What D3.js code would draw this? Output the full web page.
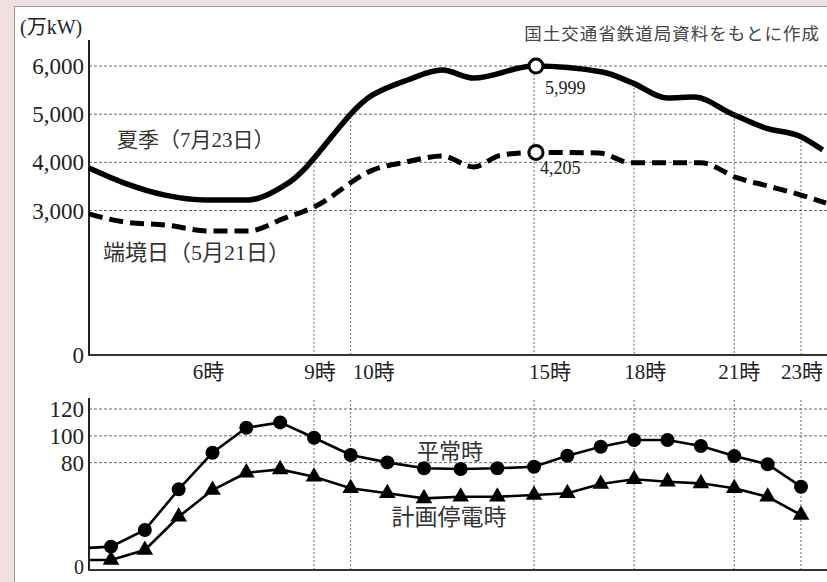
<!DOCTYPE html>
<html><head><meta charset="utf-8">
<script src="https://cdn.jsdelivr.net/npm/d3@7"></script>
<style>body{margin:0;background:#f2e0e0}svg{display:block}</style>
</head><body><svg id="c" width="827" height="582"></svg>
<script>
// ---- data ----
const summerHours   = [3.4, 4.6, 5.8, 7.05, 8.15, 10.6, 11.55, 12.5, 13.35, 15, 17.05, 17.95, 19.0, 19.8, 20.95, 21.95, 22.95, 23.65];
const summerValues  = [3570, 3320, 3220, 3220, 3530, 5400, 5710, 5915, 5750, 5999, 5875, 5650, 5335, 5355, 5000, 4710, 4545, 4255];
const summerAtAxis  = 3882;
const boundaryHours = [3.4, 4.6, 5.9, 7.05, 8.15, 9.0, 10.6, 11.5, 12.5, 13.35, 14.1, 15, 16.95, 17.9, 20.0, 21.1, 22.0, 23.0, 23.75];
const boundaryValues= [2760, 2700, 2575, 2575, 2845, 3070, 3840, 4005, 4130, 3905, 4150, 4205, 4195, 3990, 3990, 3675, 3510, 3320, 3155];
const boundaryAtAxis = 2930;
const peakHour = 15, summerPeak = 5999, boundaryPeak = 4205;
const topTicks = [0, 3000, 4000, 5000, 6000];
const hourLabels = [6, 9, 10, 15, 18, 21, 23];
const gridHours = [9, 10, 15, 18, 21, 23];

const bottomHours   = [3,4,5,6,7,8,9,10,11,12,13,14,15,16,17,18,19,20,21,22,23];
const normalValues  = [17.4, 29.8, 60.1, 87.4, 106, 110, 98.6, 85.7, 80.2, 75.8, 75.3, 75.8, 77, 85.2, 91.9, 96.9, 96.9, 92.4, 84.9, 78.8, 62.1];
const outageValues  = [7.5, 14.9, 39.7, 59.6, 72.5, 75, 69.5, 60.9, 57.2, 53.4, 54.6, 54.6, 55.9, 57.2, 64.1, 67.6, 65.8, 64.6, 60.9, 54.6, 41];
const normalAtAxis = 16.5, outageAtAxis = 7.5;
const bottomTicks = [0, 80, 100, 120];

// ---- drawing ----
const svg = d3.select("#c");
const W = 827, H = 582;
const serif = "'Liberation Serif','Noto Sans CJK JP',serif";
svg.append("rect").attr("width", W).attr("height", H).attr("fill", "#f2e0e0");
svg.append("rect").attr("x", 14.5).attr("y", 6.5).attr("width", W).attr("height", H)
  .attr("fill", "#fff").attr("stroke", "#9a9a9a");

const x = d3.scaleLinear().domain([3, 9, 15, 23]).range([111, 314, 534, 801]);
const xL = 89, xR = 827;
const hStart = x.invert(xL), hEnd = x.invert(xR);

// ===== top chart =====
const yT = d3.scaleLinear().domain([0, 6000]).range([355, 66]);
const gT = svg.append("g");
gT.selectAll("line.hg").data(topTicks.filter(d => d > 0)).join("line")
  .attr("x1", xL).attr("x2", xR).attr("y1", d => yT(d)).attr("y2", d => yT(d))
  .attr("stroke", "#555").attr("stroke-width", 0.9).attr("stroke-dasharray", "3,2");
const summerAll = [[hStart, summerAtAxis]].concat(summerHours.map((h, i) => [h, summerValues[i]]));
const boundaryAll = [[hStart, boundaryAtAxis]].concat(boundaryHours.map((h, i) => [h, boundaryValues[i]]));
function interp(series, h) {
  for (let i = 0; i < series.length - 1; i++) {
    const a = series[i], b = series[i + 1];
    if (h >= a[0] && h <= b[0]) return a[1] + (b[1] - a[1]) * (h - a[0]) / (b[0] - a[0]);
  }
  return series[series.length - 1][1];
}
gT.selectAll("line.vg").data(gridHours).join("line")
  .attr("x1", d => x(d)).attr("x2", d => x(d))
  .attr("y1", d => yT(interp(summerAll, d))).attr("y2", 355)
  .attr("stroke", "#666").attr("stroke-width", 1).attr("stroke-dasharray", "2,2");
gT.append("line").attr("x1", xL).attr("x2", xL).attr("y1", 40).attr("y2", 356)
  .attr("stroke", "#222").attr("stroke-width", 2);
gT.append("line").attr("x1", xL - 1).attr("x2", xR).attr("y1", 355).attr("y2", 355)
  .attr("stroke", "#333").attr("stroke-width", 2);
gT.selectAll("text.yt").data(topTicks).join("text")
  .attr("x", 84).attr("y", d => yT(d)).attr("dy", "0.35em").attr("text-anchor", "end")
  .attr("font-family", serif).attr("font-size", 23).attr("fill", "#222")
  .text(d => d3.format(",")(d));
const labelShift = {6: -4, 9: 6, 10: 23, 15: 16, 18: 11, 21: 5, 23: 1};
gT.selectAll("text.xt").data(hourLabels).join("text")
  .attr("x", d => x(d) + labelShift[d]).attr("y", 379).attr("text-anchor", "middle")
  .attr("font-family", serif).attr("font-size", 21).attr("fill", "#222")
  .text(d => d + "時");
const lineT = d3.line().x(d => x(d[0])).y(d => yT(d[1])).curve(d3.curveMonotoneX);
gT.append("path").attr("d", lineT(boundaryAll)).attr("fill", "none").attr("stroke", "#000")
  .attr("stroke-width", 5).attr("stroke-dasharray", "14,7");
gT.append("path").attr("d", lineT(summerAll)).attr("fill", "none").attr("stroke", "#000")
  .attr("stroke-width", 5.5).attr("stroke-linejoin", "round");
[[summerPeak, 11, 22], [boundaryPeak, 6, 15]].forEach(([v, dx, dy]) => {
  gT.append("circle").attr("cx", x(peakHour) + 2).attr("cy", yT(v)).attr("r", 7)
    .attr("fill", "#fff").attr("stroke", "#000").attr("stroke-width", 3);
  gT.append("text").attr("x", x(peakHour) + dx).attr("y", yT(v) + dy).attr("dy", "0.35em")
    .attr("font-family", serif).attr("font-size", 18).attr("fill", "#222").text(d3.format(",")(v));
});
gT.append("text").attr("x", 20).attr("y", 34).attr("font-family", serif).attr("font-size", 20)
  .attr("fill", "#222").text("(万kW)");
gT.append("text").attr("x", 820).attr("y", 40).attr("text-anchor", "end").attr("font-family", serif)
  .attr("font-size", 17.5).attr("fill", "#444").attr("letter-spacing", 1).text("国土交通省鉄道局資料をもとに作成");
gT.append("text").attr("x", 117).attr("y", 140).attr("dy", "0.35em").attr("font-family", serif)
  .attr("font-size", 21).attr("fill", "#333").text("夏季（7月23日）");
gT.append("text").attr("x", 103).attr("y", 252).attr("dy", "0.35em").attr("font-family", serif)
  .attr("font-size", 22).attr("fill", "#333").text("端境日（5月21日）");

// ===== bottom chart =====
const yB = d3.scaleLinear().domain([0, 120]).range([570, 409]);
const gB = svg.append("g");
gB.selectAll("line.hg").data(bottomTicks.filter(d => d > 0)).join("line")
  .attr("x1", xL).attr("x2", xR).attr("y1", d => yB(d)).attr("y2", d => yB(d))
  .attr("stroke", "#555").attr("stroke-width", 0.9).attr("stroke-dasharray", "3,2");
gB.selectAll("line.vg").data(gridHours).join("line")
  .attr("x1", d => x(d)).attr("x2", d => x(d)).attr("y1", 400).attr("y2", 570)
  .attr("stroke", "#666").attr("stroke-width", 1).attr("stroke-dasharray", "2,2");
gB.append("line").attr("x1", xL).attr("x2", xL).attr("y1", 398).attr("y2", 571)
  .attr("stroke", "#222").attr("stroke-width", 2);
gB.append("line").attr("x1", xL - 1).attr("x2", xR).attr("y1", 570).attr("y2", 570)
  .attr("stroke", "#333").attr("stroke-width", 2);
gB.selectAll("text.yt").data(bottomTicks).join("text")
  .attr("x", 84).attr("y", d => yB(d) + (d === 0 ? -3 : 0)).attr("dy", "0.35em").attr("text-anchor", "end")
  .attr("font-family", serif).attr("font-size", d => d === 0 ? 20 : 23).attr("fill", "#222").text(d => d);
const lineB = d3.line().x(d => x(d[0])).y(d => yB(d[1]));
const normalAll = [[hStart, normalAtAxis]].concat(bottomHours.map((h, i) => [h, normalValues[i]]));
const outageAll = [[hStart, outageAtAxis]].concat(bottomHours.map((h, i) => [h, outageValues[i]]));
[normalAll, outageAll].forEach(s => gB.append("path").attr("d", lineB(s)).attr("fill", "none")
  .attr("stroke", "#000").attr("stroke-width", 2.6));
gB.selectAll("circle.n").data(bottomHours).join("circle")
  .attr("cx", d => x(d)).attr("cy", (d, i) => yB(normalValues[i])).attr("r", 7).attr("fill", "#000");
const tri = d3.symbol().type(d3.symbolTriangle).size(120);
gB.selectAll("path.t").data(bottomHours).join("path")
  .attr("transform", (d, i) => `translate(${x(d)},${yB(outageValues[i])})`).attr("d", tri).attr("fill", "#000");
gB.append("text").attr("x", 450).attr("y", 451).attr("dy", "0.35em").attr("text-anchor", "middle")
  .attr("font-family", serif).attr("font-size", 22).attr("fill", "#333").text("平常時");
gB.append("text").attr("x", 449).attr("y", 517).attr("dy", "0.35em").attr("text-anchor", "middle")
  .attr("font-family", serif).attr("font-size", 23).attr("fill", "#333").text("計画停電時");
</script></body></html>
